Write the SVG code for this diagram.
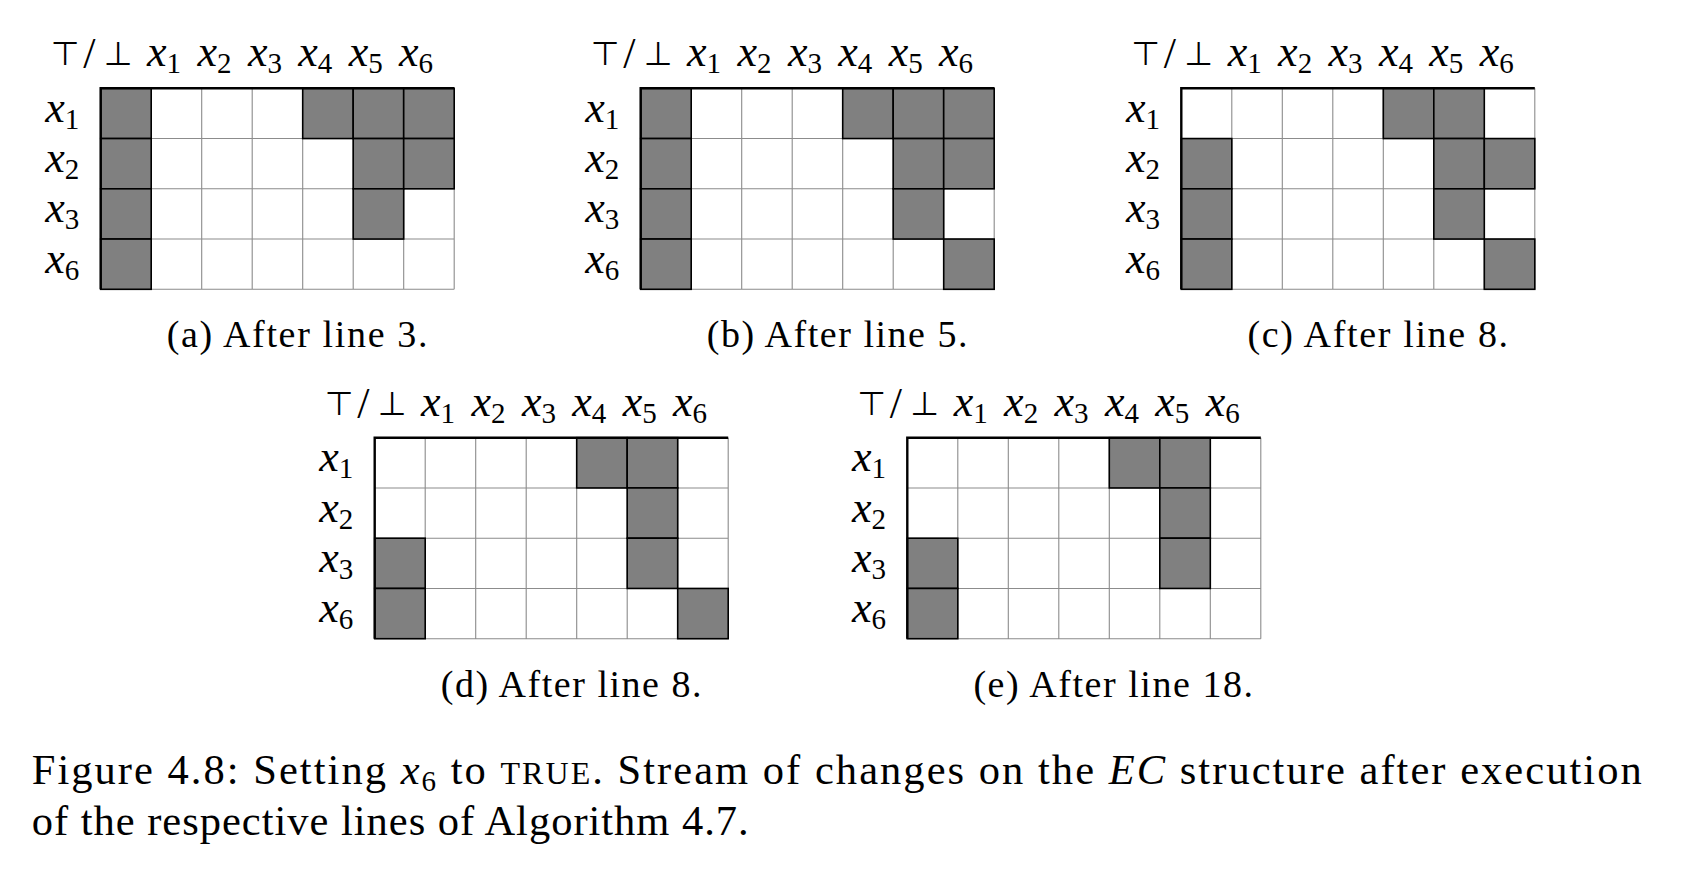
<svg xmlns="http://www.w3.org/2000/svg" xmlns:xlink="http://www.w3.org/1999/xlink" width="1682" height="874" viewBox="0 0 1682 874">
<style>
.lab{font-family:"Liberation Serif",serif;font-size:44px;fill:#000}
.it{font-style:italic}
.sub{font-size:29px;font-style:normal}
.sym{font-family:"DejaVu Sans",sans-serif;font-size:33px;fill:#000}
.gl{fill:none;stroke:#8c8c8c;stroke-width:1.1}
.cg{fill:#808080;stroke:#000;stroke-width:1.6}
.bd{fill:none;stroke:#000;stroke-width:2.4}
.cap{font-family:"Liberation Serif",serif;font-size:38px;fill:#000}
.fig{font-family:"Liberation Serif",serif;font-size:42.5px;fill:#000}
</style>
<defs>
<g id="grid"><rect width="353.5" height="201" fill="#fff"/><path class="gl" d="M50.5 0V201M101 0V201M151.5 0V201M202 0V201M252.5 0V201M303 0V201M353.5 0V201M0 50.25H353.5M0 100.5H353.5M0 150.75H353.5M0 201H353.5"/></g>
<path id="border" d="M0 201V0H353.5"/>
<rect id="cell" width="50.5" height="50.25"/>
</defs>

<g id="panel-a" transform="translate(100.7,88.3)">
<text class="sym" x="-50" y="-23">⊤</text><text class="lab" x="-17.5" y="-20">/</text><text class="sym" x="3" y="-23">⊥</text>
<text class="lab" x="46.4" y="-21.9"><tspan class="it">x</tspan><tspan class="sub" dy="7">1</tspan></text>
<text class="lab" x="96.8" y="-21.9"><tspan class="it">x</tspan><tspan class="sub" dy="7">2</tspan></text>
<text class="lab" x="147.2" y="-21.9"><tspan class="it">x</tspan><tspan class="sub" dy="7">3</tspan></text>
<text class="lab" x="197.6" y="-21.9"><tspan class="it">x</tspan><tspan class="sub" dy="7">4</tspan></text>
<text class="lab" x="248" y="-21.9"><tspan class="it">x</tspan><tspan class="sub" dy="7">5</tspan></text>
<text class="lab" x="298.4" y="-21.9"><tspan class="it">x</tspan><tspan class="sub" dy="7">6</tspan></text>
<text class="lab" x="-55.4" y="33.7"><tspan class="it">x</tspan><tspan class="sub" dy="7">1</tspan></text>
<text class="lab" x="-55.4" y="83.9"><tspan class="it">x</tspan><tspan class="sub" dy="7">2</tspan></text>
<text class="lab" x="-55.4" y="134.2"><tspan class="it">x</tspan><tspan class="sub" dy="7">3</tspan></text>
<text class="lab" x="-55.4" y="184.5"><tspan class="it">x</tspan><tspan class="sub" dy="7">6</tspan></text>
<use xlink:href="#grid"/>
<g class="cg"><use xlink:href="#cell" x="0" y="0"/><use xlink:href="#cell" x="202" y="0"/><use xlink:href="#cell" x="252.5" y="0"/><use xlink:href="#cell" x="303" y="0"/><use xlink:href="#cell" x="0" y="50.25"/><use xlink:href="#cell" x="252.5" y="50.25"/><use xlink:href="#cell" x="303" y="50.25"/><use xlink:href="#cell" x="0" y="100.5"/><use xlink:href="#cell" x="252.5" y="100.5"/><use xlink:href="#cell" x="0" y="150.75"/></g>
<use xlink:href="#border" class="bd"/>
<text class="cap" x="66.1" y="258.9" textLength="260.7" lengthAdjust="spacing">(a) After line 3.</text>
</g>

<g id="panel-b" transform="translate(640.7,88.3)">
<text class="sym" x="-50" y="-23">⊤</text><text class="lab" x="-17.5" y="-20">/</text><text class="sym" x="3" y="-23">⊥</text>
<text class="lab" x="46.4" y="-21.9"><tspan class="it">x</tspan><tspan class="sub" dy="7">1</tspan></text>
<text class="lab" x="96.8" y="-21.9"><tspan class="it">x</tspan><tspan class="sub" dy="7">2</tspan></text>
<text class="lab" x="147.2" y="-21.9"><tspan class="it">x</tspan><tspan class="sub" dy="7">3</tspan></text>
<text class="lab" x="197.6" y="-21.9"><tspan class="it">x</tspan><tspan class="sub" dy="7">4</tspan></text>
<text class="lab" x="248" y="-21.9"><tspan class="it">x</tspan><tspan class="sub" dy="7">5</tspan></text>
<text class="lab" x="298.4" y="-21.9"><tspan class="it">x</tspan><tspan class="sub" dy="7">6</tspan></text>
<text class="lab" x="-55.4" y="33.7"><tspan class="it">x</tspan><tspan class="sub" dy="7">1</tspan></text>
<text class="lab" x="-55.4" y="83.9"><tspan class="it">x</tspan><tspan class="sub" dy="7">2</tspan></text>
<text class="lab" x="-55.4" y="134.2"><tspan class="it">x</tspan><tspan class="sub" dy="7">3</tspan></text>
<text class="lab" x="-55.4" y="184.5"><tspan class="it">x</tspan><tspan class="sub" dy="7">6</tspan></text>
<use xlink:href="#grid"/>
<g class="cg"><use xlink:href="#cell" x="0" y="0"/><use xlink:href="#cell" x="202" y="0"/><use xlink:href="#cell" x="252.5" y="0"/><use xlink:href="#cell" x="303" y="0"/><use xlink:href="#cell" x="0" y="50.25"/><use xlink:href="#cell" x="252.5" y="50.25"/><use xlink:href="#cell" x="303" y="50.25"/><use xlink:href="#cell" x="0" y="100.5"/><use xlink:href="#cell" x="252.5" y="100.5"/><use xlink:href="#cell" x="0" y="150.75"/><use xlink:href="#cell" x="303" y="150.75"/></g>
<use xlink:href="#border" class="bd"/>
<text class="cap" x="66.1" y="258.9" textLength="260.7" lengthAdjust="spacing">(b) After line 5.</text>
</g>

<g id="panel-c" transform="translate(1181.3,88.3)">
<text class="sym" x="-50" y="-23">⊤</text><text class="lab" x="-17.5" y="-20">/</text><text class="sym" x="3" y="-23">⊥</text>
<text class="lab" x="46.4" y="-21.9"><tspan class="it">x</tspan><tspan class="sub" dy="7">1</tspan></text>
<text class="lab" x="96.8" y="-21.9"><tspan class="it">x</tspan><tspan class="sub" dy="7">2</tspan></text>
<text class="lab" x="147.2" y="-21.9"><tspan class="it">x</tspan><tspan class="sub" dy="7">3</tspan></text>
<text class="lab" x="197.6" y="-21.9"><tspan class="it">x</tspan><tspan class="sub" dy="7">4</tspan></text>
<text class="lab" x="248" y="-21.9"><tspan class="it">x</tspan><tspan class="sub" dy="7">5</tspan></text>
<text class="lab" x="298.4" y="-21.9"><tspan class="it">x</tspan><tspan class="sub" dy="7">6</tspan></text>
<text class="lab" x="-55.4" y="33.7"><tspan class="it">x</tspan><tspan class="sub" dy="7">1</tspan></text>
<text class="lab" x="-55.4" y="83.9"><tspan class="it">x</tspan><tspan class="sub" dy="7">2</tspan></text>
<text class="lab" x="-55.4" y="134.2"><tspan class="it">x</tspan><tspan class="sub" dy="7">3</tspan></text>
<text class="lab" x="-55.4" y="184.5"><tspan class="it">x</tspan><tspan class="sub" dy="7">6</tspan></text>
<use xlink:href="#grid"/>
<g class="cg"><use xlink:href="#cell" x="202" y="0"/><use xlink:href="#cell" x="252.5" y="0"/><use xlink:href="#cell" x="0" y="50.25"/><use xlink:href="#cell" x="252.5" y="50.25"/><use xlink:href="#cell" x="303" y="50.25"/><use xlink:href="#cell" x="0" y="100.5"/><use xlink:href="#cell" x="252.5" y="100.5"/><use xlink:href="#cell" x="0" y="150.75"/><use xlink:href="#cell" x="303" y="150.75"/></g>
<use xlink:href="#border" class="bd"/>
<text class="cap" x="66.1" y="258.9" textLength="260.7" lengthAdjust="spacing">(c) After line 8.</text>
</g>

<g id="panel-d" transform="translate(374.7,437.7)">
<text class="sym" x="-50" y="-23">⊤</text><text class="lab" x="-17.5" y="-20">/</text><text class="sym" x="3" y="-23">⊥</text>
<text class="lab" x="46.4" y="-21.9"><tspan class="it">x</tspan><tspan class="sub" dy="7">1</tspan></text>
<text class="lab" x="96.8" y="-21.9"><tspan class="it">x</tspan><tspan class="sub" dy="7">2</tspan></text>
<text class="lab" x="147.2" y="-21.9"><tspan class="it">x</tspan><tspan class="sub" dy="7">3</tspan></text>
<text class="lab" x="197.6" y="-21.9"><tspan class="it">x</tspan><tspan class="sub" dy="7">4</tspan></text>
<text class="lab" x="248" y="-21.9"><tspan class="it">x</tspan><tspan class="sub" dy="7">5</tspan></text>
<text class="lab" x="298.4" y="-21.9"><tspan class="it">x</tspan><tspan class="sub" dy="7">6</tspan></text>
<text class="lab" x="-55.4" y="33.7"><tspan class="it">x</tspan><tspan class="sub" dy="7">1</tspan></text>
<text class="lab" x="-55.4" y="83.9"><tspan class="it">x</tspan><tspan class="sub" dy="7">2</tspan></text>
<text class="lab" x="-55.4" y="134.2"><tspan class="it">x</tspan><tspan class="sub" dy="7">3</tspan></text>
<text class="lab" x="-55.4" y="184.5"><tspan class="it">x</tspan><tspan class="sub" dy="7">6</tspan></text>
<use xlink:href="#grid"/>
<g class="cg"><use xlink:href="#cell" x="202" y="0"/><use xlink:href="#cell" x="252.5" y="0"/><use xlink:href="#cell" x="252.5" y="50.25"/><use xlink:href="#cell" x="0" y="100.5"/><use xlink:href="#cell" x="252.5" y="100.5"/><use xlink:href="#cell" x="0" y="150.75"/><use xlink:href="#cell" x="303" y="150.75"/></g>
<use xlink:href="#border" class="bd"/>
<text class="cap" x="66.1" y="258.9" textLength="260.7" lengthAdjust="spacing">(d) After line 8.</text>
</g>

<g id="panel-e" transform="translate(907.3,437.7)">
<text class="sym" x="-50" y="-23">⊤</text><text class="lab" x="-17.5" y="-20">/</text><text class="sym" x="3" y="-23">⊥</text>
<text class="lab" x="46.4" y="-21.9"><tspan class="it">x</tspan><tspan class="sub" dy="7">1</tspan></text>
<text class="lab" x="96.8" y="-21.9"><tspan class="it">x</tspan><tspan class="sub" dy="7">2</tspan></text>
<text class="lab" x="147.2" y="-21.9"><tspan class="it">x</tspan><tspan class="sub" dy="7">3</tspan></text>
<text class="lab" x="197.6" y="-21.9"><tspan class="it">x</tspan><tspan class="sub" dy="7">4</tspan></text>
<text class="lab" x="248" y="-21.9"><tspan class="it">x</tspan><tspan class="sub" dy="7">5</tspan></text>
<text class="lab" x="298.4" y="-21.9"><tspan class="it">x</tspan><tspan class="sub" dy="7">6</tspan></text>
<text class="lab" x="-55.4" y="33.7"><tspan class="it">x</tspan><tspan class="sub" dy="7">1</tspan></text>
<text class="lab" x="-55.4" y="83.9"><tspan class="it">x</tspan><tspan class="sub" dy="7">2</tspan></text>
<text class="lab" x="-55.4" y="134.2"><tspan class="it">x</tspan><tspan class="sub" dy="7">3</tspan></text>
<text class="lab" x="-55.4" y="184.5"><tspan class="it">x</tspan><tspan class="sub" dy="7">6</tspan></text>
<use xlink:href="#grid"/>
<g class="cg"><use xlink:href="#cell" x="202" y="0"/><use xlink:href="#cell" x="252.5" y="0"/><use xlink:href="#cell" x="252.5" y="50.25"/><use xlink:href="#cell" x="0" y="100.5"/><use xlink:href="#cell" x="252.5" y="100.5"/><use xlink:href="#cell" x="0" y="150.75"/></g>
<use xlink:href="#border" class="bd"/>
<text class="cap" x="66.1" y="258.9" textLength="279.6" lengthAdjust="spacing">(e) After line 18.</text>
</g>

<g id="connectors"></g>

<g id="caption">
<text class="fig" x="31.7" y="784" textLength="1610" lengthAdjust="spacing">Figure 4.8: Setting <tspan class="it">x</tspan><tspan font-size="29" dy="6.5">6</tspan><tspan dy="-6.5"> to </tspan><tspan font-size="32">TRUE</tspan>. Stream of changes on the <tspan class="it">EC</tspan> structure after execution</text>
<text class="fig" x="31.7" y="835" textLength="717" lengthAdjust="spacing">of the respective lines of Algorithm 4.7.</text>
</g>
</svg>
